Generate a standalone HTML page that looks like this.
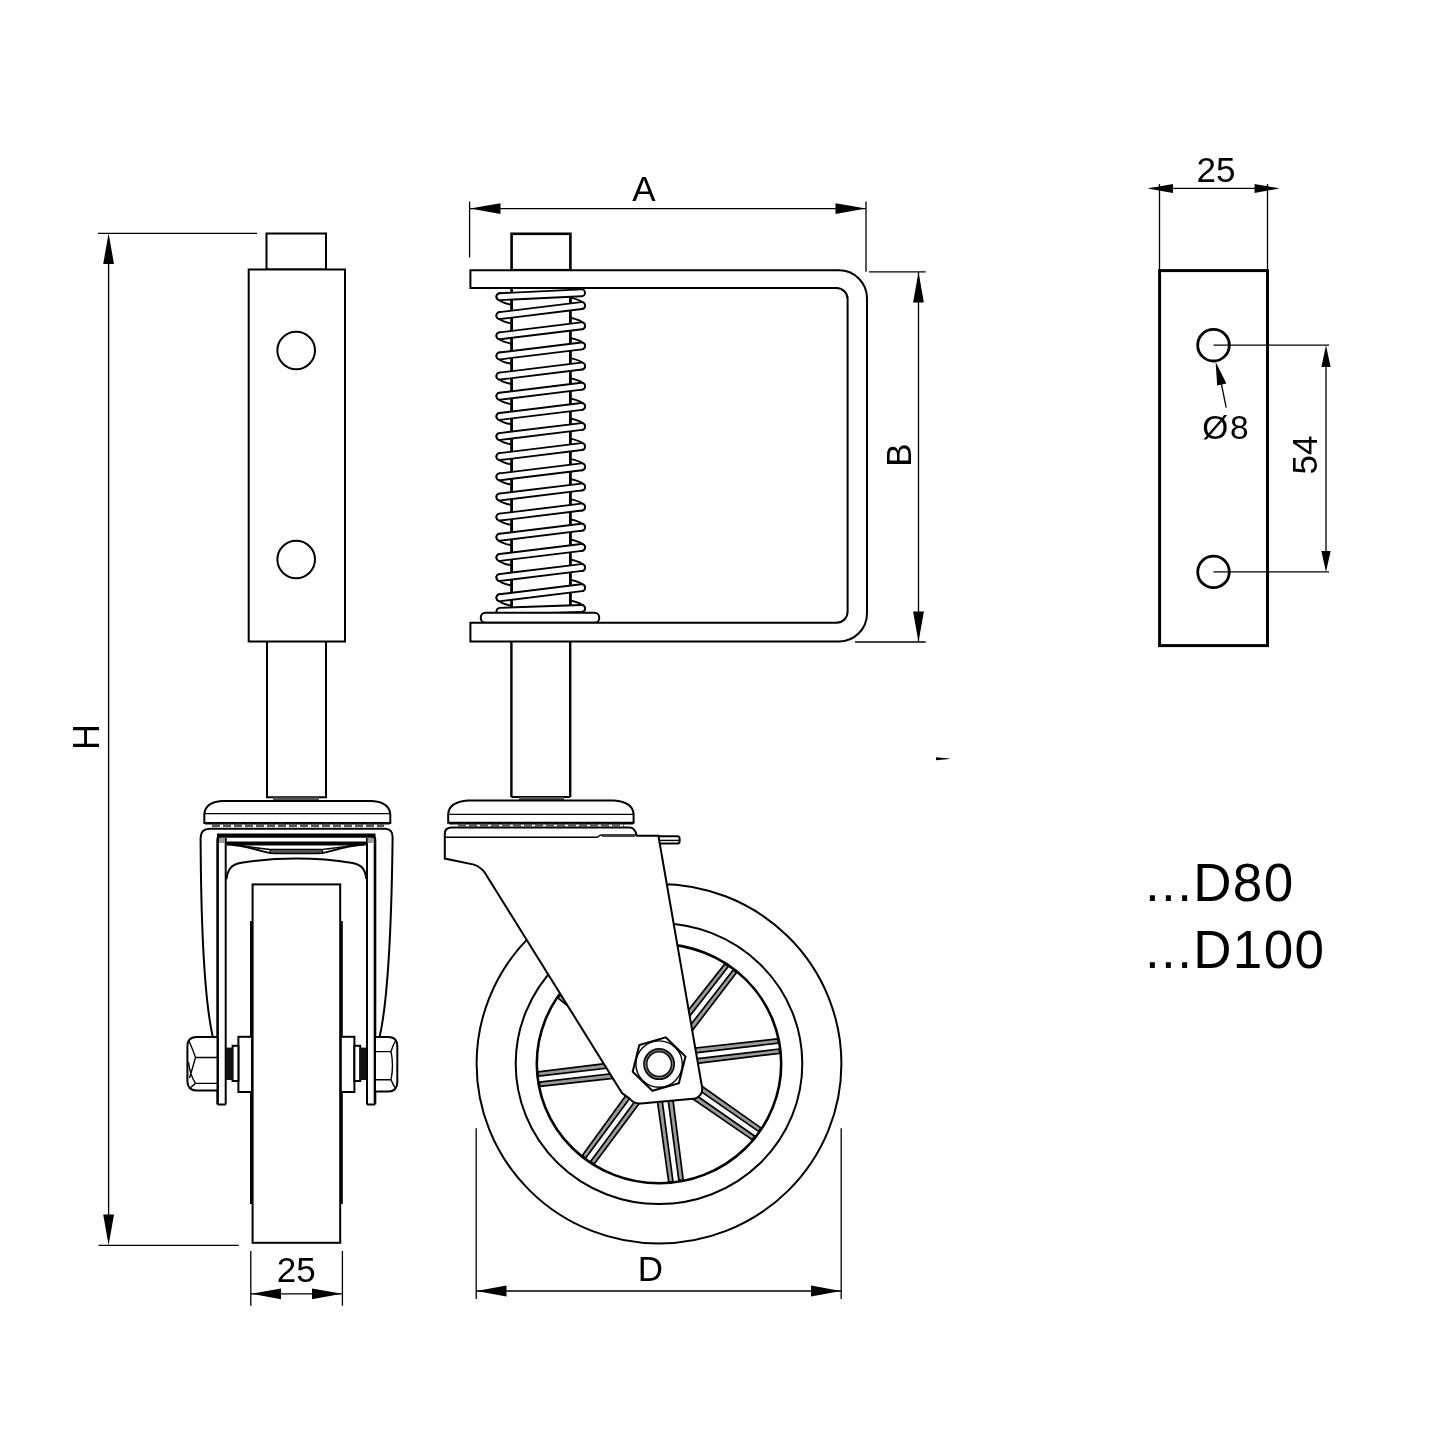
<!DOCTYPE html>
<html><head><meta charset="utf-8"><title>Caster drawing</title>
<style>
html,body{margin:0;padding:0;background:#fff}
body{width:1440px;height:1440px;overflow:hidden}
svg{display:block;filter:grayscale(1)}
text{font-family:"Liberation Sans",sans-serif;fill:#000}
.k{stroke:#000;fill:none;stroke-width:2}
.w{stroke:#000;fill:#fff;stroke-width:2}
.t{stroke:#000;fill:none;stroke-width:1.4}
.d{stroke:#000;fill:none;stroke-width:1.3}
.a{fill:#000;stroke:none}
</style></head><body>
<svg width="1440" height="1440" viewBox="0 0 1440 1440">
<rect width="1440" height="1440" fill="#fff"/>

<g id="left">
<path class="d" d="M98,233.3H257M98.5,1245.3H238.8M108.6,250V1230"/>
<polygon class="a" points="108.6,233.3 103.2,264 114,264"/>
<polygon class="a" points="108.6,1245.3 103.2,1214.5 114,1214.5"/>
<text transform="translate(99,737) rotate(-90)" font-size="36" text-anchor="middle">H</text>
<rect class="w" x="266.5" y="233.5" width="59.5" height="36"/>
<rect class="w" x="248.7" y="269.5" width="96.3" height="372"/>
<circle class="k" cx="296.2" cy="350.5" r="18.8"/>
<circle class="k" cx="296.2" cy="559.5" r="18.8"/>
<path class="k" d="M267,641.5V797.3H326V641.5"/>
<rect x="273" y="797.3" width="46" height="3.6" fill="#555"/>
<path class="w" d="M210,828.8H385Q393,829 392.6,838C391.5,930 388,1000 379.6,1037H212.8C204.5,1000 201,930 200.6,838Q200.5,829 210,828.8Z"/>
<path class="w" d="M204.3,822.9V814Q205.5,802 222,801H372Q389,802 390.3,814V822.9Z"/>
<path class="t" d="M204.3,813.6H390.3"/>
<path d="M205,823.3H389.6" stroke="#000" stroke-width="2.6" fill="none"/>
<path d="M212,825.4H384" stroke="#555" stroke-width="3.2" stroke-dasharray="8,3" fill="none"/>
<path d="M217.6,1104.5V840Q217.6,835.6 222,835.6H370.5Q375,835.6 375,840V1104.5" fill="#fff" stroke="#000" stroke-width="2.6"/>
<path d="M217,835.6H375.5" stroke="#000" stroke-width="4.2" fill="none"/>
<path d="M225.7,843H367" stroke="#000" stroke-width="3" fill="none"/>
<path class="k" d="M225.7,838V1104.5M367,838V1104.5"/>
<path class="k" d="M217.6,1104.5H225.7M367,1104.5H375"/>
<rect x="219" y="838" width="6" height="5" fill="#999"/><rect x="367.6" y="838" width="6" height="5" fill="#999"/>
<path d="M227,844.5C240,845.2 252,848.2 262,851.2Q268,853.3 274,853.3H318.5Q324.5,853.3 330.5,851.2C340.5,848.2 352.5,845.2 365.5,844.5Z" fill="#fff" stroke="#000" stroke-width="1.8"/>
<path d="M240,845.6C252,847 262,849.2 270,849.4V853.3H322.5V849.4C330.5,849.2 340.5,847 352.5,845.6L322.5,849.4H270Z" fill="#555" stroke="#000" stroke-width="1.2"/>
<path class="k" d="M226.5,879C228,868 232,864.8 240,863C262,859.5 280,858.6 296.3,858.6C313,858.6 331,859.5 352.5,863C361,864.8 365,868 366.3,879"/>
<rect class="w" x="252.6" y="884.4" width="87.6" height="358.4"/>
<path d="M251.2,921V1204M341.6,921V1204" stroke="#000" stroke-width="2.4" fill="none"/>
<rect class="w" x="238.4" y="1036.8" width="13.6" height="55.2"/>
<rect class="w" x="232.6" y="1045.8" width="5.8" height="35.2"/>
<rect x="226" y="1047.6" width="7" height="32.4" fill="#111"/>
<rect class="w" x="340.8" y="1036.8" width="13.6" height="55.2"/>
<rect class="w" x="354.4" y="1045.8" width="5.8" height="35.2"/>
<rect x="359.6" y="1047.6" width="7" height="32.4" fill="#111"/>
<path class="w" d="M217.5,1037H196Q187.4,1037.5 187.4,1046V1081Q187.4,1090 196,1090.4H217.5Z"/>
<path class="t" d="M195.5,1057.5H217.5M195.5,1083.4H217.5M189,1041Q193,1050 195.5,1057.5Q192,1070 189.5,1078M188.5,1062Q190,1075 195.5,1083.4L190,1088"/>
<path class="w" d="M375,1037H389Q397.3,1037.5 397.3,1046V1082Q397.3,1091 389,1091.4H375Z"/>
<path class="t" d="M375,1051.6H391M375,1079.8H391M395.5,1041Q392.5,1046 391,1051.6Q394,1065 391,1079.8Q393,1085 395.5,1088"/>
<path class="d" d="M250.8,1251V1305.8M342.4,1251V1305.8M251,1293.8H342"/>
<polygon class="a" points="251.2,1293.8 281,1288.4 281,1299.2"/>
<polygon class="a" points="342,1293.8 312,1288.4 312,1299.2"/>
<text x="296.3" y="1282" font-size="35" text-anchor="middle">25</text>
</g>
<g id="mid">
<path class="d" d="M469.6,201.4V257.4M866,201.4V271.8M470,208.6H866"/>
<polygon class="a" points="470,208.6 500.5,203.2 500.5,214"/>
<polygon class="a" points="866,208.6 835.5,203.2 835.5,214"/>
<text x="644" y="201.4" font-size="35" text-anchor="middle">A</text>
<path class="d" d="M869,271.8H925.7M855,642H925.7M918.5,272V642"/>
<polygon class="a" points="918.5,272 913.1,302.5 923.9,302.5"/>
<polygon class="a" points="918.5,642 913.1,611.5 923.9,611.5"/>
<text transform="translate(911.3,455) rotate(-90)" font-size="35" text-anchor="middle">B</text>
<rect x="511.6" y="233.8" width="58.8" height="36.4" fill="#fff" stroke="#000" stroke-width="2.6"/>
<path d="M499.9,296.7Q505.9,301.2 520,302.2" stroke="#000" stroke-width="8.8" stroke-linecap="round" fill="none"/>
<path d="M499.9,296.7Q505.9,301.2 520,302.2" stroke="#fff" stroke-width="5" stroke-linecap="round" fill="none"/>
<path d="M499.9,315.6Q505.9,320.1 520,321.1" stroke="#000" stroke-width="8.8" stroke-linecap="round" fill="none"/>
<path d="M499.9,315.6Q505.9,320.1 520,321.1" stroke="#fff" stroke-width="5" stroke-linecap="round" fill="none"/>
<path d="M581.6,305.6Q575.6,301.1 562,300.1" stroke="#000" stroke-width="8.8" stroke-linecap="round" fill="none"/>
<path d="M581.6,305.6Q575.6,301.1 562,300.1" stroke="#fff" stroke-width="5" stroke-linecap="round" fill="none"/>
<path d="M499.9,335.8Q505.9,340.2 520,341.2" stroke="#000" stroke-width="8.8" stroke-linecap="round" fill="none"/>
<path d="M499.9,335.8Q505.9,340.2 520,341.2" stroke="#fff" stroke-width="5" stroke-linecap="round" fill="none"/>
<path d="M581.6,325.8Q575.6,321.2 562,320.2" stroke="#000" stroke-width="8.8" stroke-linecap="round" fill="none"/>
<path d="M581.6,325.8Q575.6,321.2 562,320.2" stroke="#fff" stroke-width="5" stroke-linecap="round" fill="none"/>
<path d="M499.9,355.9Q505.9,360.4 520,361.4" stroke="#000" stroke-width="8.8" stroke-linecap="round" fill="none"/>
<path d="M499.9,355.9Q505.9,360.4 520,361.4" stroke="#fff" stroke-width="5" stroke-linecap="round" fill="none"/>
<path d="M581.6,345.9Q575.6,341.4 562,340.4" stroke="#000" stroke-width="8.8" stroke-linecap="round" fill="none"/>
<path d="M581.6,345.9Q575.6,341.4 562,340.4" stroke="#fff" stroke-width="5" stroke-linecap="round" fill="none"/>
<path d="M499.9,376.1Q505.9,380.6 520,381.6" stroke="#000" stroke-width="8.8" stroke-linecap="round" fill="none"/>
<path d="M499.9,376.1Q505.9,380.6 520,381.6" stroke="#fff" stroke-width="5" stroke-linecap="round" fill="none"/>
<path d="M581.6,366.1Q575.6,361.6 562,360.6" stroke="#000" stroke-width="8.8" stroke-linecap="round" fill="none"/>
<path d="M581.6,366.1Q575.6,361.6 562,360.6" stroke="#fff" stroke-width="5" stroke-linecap="round" fill="none"/>
<path d="M499.9,396.2Q505.9,400.7 520,401.7" stroke="#000" stroke-width="8.8" stroke-linecap="round" fill="none"/>
<path d="M499.9,396.2Q505.9,400.7 520,401.7" stroke="#fff" stroke-width="5" stroke-linecap="round" fill="none"/>
<path d="M581.6,386.2Q575.6,381.7 562,380.7" stroke="#000" stroke-width="8.8" stroke-linecap="round" fill="none"/>
<path d="M581.6,386.2Q575.6,381.7 562,380.7" stroke="#fff" stroke-width="5" stroke-linecap="round" fill="none"/>
<path d="M499.9,416.4Q505.9,420.9 520,421.9" stroke="#000" stroke-width="8.8" stroke-linecap="round" fill="none"/>
<path d="M499.9,416.4Q505.9,420.9 520,421.9" stroke="#fff" stroke-width="5" stroke-linecap="round" fill="none"/>
<path d="M581.6,406.4Q575.6,401.9 562,400.9" stroke="#000" stroke-width="8.8" stroke-linecap="round" fill="none"/>
<path d="M581.6,406.4Q575.6,401.9 562,400.9" stroke="#fff" stroke-width="5" stroke-linecap="round" fill="none"/>
<path d="M499.9,436.5Q505.9,441.0 520,442.0" stroke="#000" stroke-width="8.8" stroke-linecap="round" fill="none"/>
<path d="M499.9,436.5Q505.9,441.0 520,442.0" stroke="#fff" stroke-width="5" stroke-linecap="round" fill="none"/>
<path d="M581.6,426.5Q575.6,422.0 562,421.0" stroke="#000" stroke-width="8.8" stroke-linecap="round" fill="none"/>
<path d="M581.6,426.5Q575.6,422.0 562,421.0" stroke="#fff" stroke-width="5" stroke-linecap="round" fill="none"/>
<path d="M499.9,456.6Q505.9,461.1 520,462.1" stroke="#000" stroke-width="8.8" stroke-linecap="round" fill="none"/>
<path d="M499.9,456.6Q505.9,461.1 520,462.1" stroke="#fff" stroke-width="5" stroke-linecap="round" fill="none"/>
<path d="M581.6,446.6Q575.6,442.1 562,441.1" stroke="#000" stroke-width="8.8" stroke-linecap="round" fill="none"/>
<path d="M581.6,446.6Q575.6,442.1 562,441.1" stroke="#fff" stroke-width="5" stroke-linecap="round" fill="none"/>
<path d="M499.9,476.8Q505.9,481.3 520,482.3" stroke="#000" stroke-width="8.8" stroke-linecap="round" fill="none"/>
<path d="M499.9,476.8Q505.9,481.3 520,482.3" stroke="#fff" stroke-width="5" stroke-linecap="round" fill="none"/>
<path d="M581.6,466.8Q575.6,462.3 562,461.3" stroke="#000" stroke-width="8.8" stroke-linecap="round" fill="none"/>
<path d="M581.6,466.8Q575.6,462.3 562,461.3" stroke="#fff" stroke-width="5" stroke-linecap="round" fill="none"/>
<path d="M499.9,497.0Q505.9,501.5 520,502.5" stroke="#000" stroke-width="8.8" stroke-linecap="round" fill="none"/>
<path d="M499.9,497.0Q505.9,501.5 520,502.5" stroke="#fff" stroke-width="5" stroke-linecap="round" fill="none"/>
<path d="M581.6,487.0Q575.6,482.5 562,481.5" stroke="#000" stroke-width="8.8" stroke-linecap="round" fill="none"/>
<path d="M581.6,487.0Q575.6,482.5 562,481.5" stroke="#fff" stroke-width="5" stroke-linecap="round" fill="none"/>
<path d="M499.9,517.1Q505.9,521.6 520,522.6" stroke="#000" stroke-width="8.8" stroke-linecap="round" fill="none"/>
<path d="M499.9,517.1Q505.9,521.6 520,522.6" stroke="#fff" stroke-width="5" stroke-linecap="round" fill="none"/>
<path d="M581.6,507.1Q575.6,502.6 562,501.6" stroke="#000" stroke-width="8.8" stroke-linecap="round" fill="none"/>
<path d="M581.6,507.1Q575.6,502.6 562,501.6" stroke="#fff" stroke-width="5" stroke-linecap="round" fill="none"/>
<path d="M499.9,537.2Q505.9,541.8 520,542.8" stroke="#000" stroke-width="8.8" stroke-linecap="round" fill="none"/>
<path d="M499.9,537.2Q505.9,541.8 520,542.8" stroke="#fff" stroke-width="5" stroke-linecap="round" fill="none"/>
<path d="M581.6,527.2Q575.6,522.8 562,521.8" stroke="#000" stroke-width="8.8" stroke-linecap="round" fill="none"/>
<path d="M581.6,527.2Q575.6,522.8 562,521.8" stroke="#fff" stroke-width="5" stroke-linecap="round" fill="none"/>
<path d="M499.9,557.4Q505.9,561.9 520,562.9" stroke="#000" stroke-width="8.8" stroke-linecap="round" fill="none"/>
<path d="M499.9,557.4Q505.9,561.9 520,562.9" stroke="#fff" stroke-width="5" stroke-linecap="round" fill="none"/>
<path d="M581.6,547.4Q575.6,542.9 562,541.9" stroke="#000" stroke-width="8.8" stroke-linecap="round" fill="none"/>
<path d="M581.6,547.4Q575.6,542.9 562,541.9" stroke="#fff" stroke-width="5" stroke-linecap="round" fill="none"/>
<path d="M499.9,577.5Q505.9,582.0 520,583.0" stroke="#000" stroke-width="8.8" stroke-linecap="round" fill="none"/>
<path d="M499.9,577.5Q505.9,582.0 520,583.0" stroke="#fff" stroke-width="5" stroke-linecap="round" fill="none"/>
<path d="M581.6,567.5Q575.6,563.0 562,562.0" stroke="#000" stroke-width="8.8" stroke-linecap="round" fill="none"/>
<path d="M581.6,567.5Q575.6,563.0 562,562.0" stroke="#fff" stroke-width="5" stroke-linecap="round" fill="none"/>
<path d="M499.9,597.7Q505.9,602.2 520,603.2" stroke="#000" stroke-width="8.8" stroke-linecap="round" fill="none"/>
<path d="M499.9,597.7Q505.9,602.2 520,603.2" stroke="#fff" stroke-width="5" stroke-linecap="round" fill="none"/>
<path d="M581.6,587.7Q575.6,583.2 562,582.2" stroke="#000" stroke-width="8.8" stroke-linecap="round" fill="none"/>
<path d="M581.6,587.7Q575.6,583.2 562,582.2" stroke="#fff" stroke-width="5" stroke-linecap="round" fill="none"/>
<path d="M581.6,608.5Q575.6,604.0 562,603.0" stroke="#000" stroke-width="8.8" stroke-linecap="round" fill="none"/>
<path d="M581.6,608.5Q575.6,604.0 562,603.0" stroke="#fff" stroke-width="5" stroke-linecap="round" fill="none"/>
<rect x="511.6" y="288" width="58.8" height="334" fill="#fff" stroke="none"/>
<path d="M511.6,288V622M570.4,288V622" stroke="#000" stroke-width="2.8" fill="none"/>
<path d="M499.9,296.7L581.6,292.8" stroke="#000" stroke-width="8.8" stroke-linecap="round" fill="none"/>
<path d="M499.9,296.7L581.6,292.8" stroke="#fff" stroke-width="5" stroke-linecap="round" fill="none"/>
<path d="M499.9,315.6L581.6,305.6" stroke="#000" stroke-width="8.8" stroke-linecap="round" fill="none"/>
<path d="M499.9,315.6L581.6,305.6" stroke="#fff" stroke-width="5" stroke-linecap="round" fill="none"/>
<path d="M499.9,335.8L581.6,325.8" stroke="#000" stroke-width="8.8" stroke-linecap="round" fill="none"/>
<path d="M499.9,335.8L581.6,325.8" stroke="#fff" stroke-width="5" stroke-linecap="round" fill="none"/>
<path d="M499.9,355.9L581.6,345.9" stroke="#000" stroke-width="8.8" stroke-linecap="round" fill="none"/>
<path d="M499.9,355.9L581.6,345.9" stroke="#fff" stroke-width="5" stroke-linecap="round" fill="none"/>
<path d="M499.9,376.1L581.6,366.1" stroke="#000" stroke-width="8.8" stroke-linecap="round" fill="none"/>
<path d="M499.9,376.1L581.6,366.1" stroke="#fff" stroke-width="5" stroke-linecap="round" fill="none"/>
<path d="M499.9,396.2L581.6,386.2" stroke="#000" stroke-width="8.8" stroke-linecap="round" fill="none"/>
<path d="M499.9,396.2L581.6,386.2" stroke="#fff" stroke-width="5" stroke-linecap="round" fill="none"/>
<path d="M499.9,416.4L581.6,406.4" stroke="#000" stroke-width="8.8" stroke-linecap="round" fill="none"/>
<path d="M499.9,416.4L581.6,406.4" stroke="#fff" stroke-width="5" stroke-linecap="round" fill="none"/>
<path d="M499.9,436.5L581.6,426.5" stroke="#000" stroke-width="8.8" stroke-linecap="round" fill="none"/>
<path d="M499.9,436.5L581.6,426.5" stroke="#fff" stroke-width="5" stroke-linecap="round" fill="none"/>
<path d="M499.9,456.6L581.6,446.6" stroke="#000" stroke-width="8.8" stroke-linecap="round" fill="none"/>
<path d="M499.9,456.6L581.6,446.6" stroke="#fff" stroke-width="5" stroke-linecap="round" fill="none"/>
<path d="M499.9,476.8L581.6,466.8" stroke="#000" stroke-width="8.8" stroke-linecap="round" fill="none"/>
<path d="M499.9,476.8L581.6,466.8" stroke="#fff" stroke-width="5" stroke-linecap="round" fill="none"/>
<path d="M499.9,497.0L581.6,487.0" stroke="#000" stroke-width="8.8" stroke-linecap="round" fill="none"/>
<path d="M499.9,497.0L581.6,487.0" stroke="#fff" stroke-width="5" stroke-linecap="round" fill="none"/>
<path d="M499.9,517.1L581.6,507.1" stroke="#000" stroke-width="8.8" stroke-linecap="round" fill="none"/>
<path d="M499.9,517.1L581.6,507.1" stroke="#fff" stroke-width="5" stroke-linecap="round" fill="none"/>
<path d="M499.9,537.2L581.6,527.2" stroke="#000" stroke-width="8.8" stroke-linecap="round" fill="none"/>
<path d="M499.9,537.2L581.6,527.2" stroke="#fff" stroke-width="5" stroke-linecap="round" fill="none"/>
<path d="M499.9,557.4L581.6,547.4" stroke="#000" stroke-width="8.8" stroke-linecap="round" fill="none"/>
<path d="M499.9,557.4L581.6,547.4" stroke="#fff" stroke-width="5" stroke-linecap="round" fill="none"/>
<path d="M499.9,577.5L581.6,567.5" stroke="#000" stroke-width="8.8" stroke-linecap="round" fill="none"/>
<path d="M499.9,577.5L581.6,567.5" stroke="#fff" stroke-width="5" stroke-linecap="round" fill="none"/>
<path d="M499.9,597.7L581.6,587.7" stroke="#000" stroke-width="8.8" stroke-linecap="round" fill="none"/>
<path d="M499.9,597.7L581.6,587.7" stroke="#fff" stroke-width="5" stroke-linecap="round" fill="none"/>
<path d="M499.9,611.3L581.6,608.5" stroke="#000" stroke-width="8.8" stroke-linecap="round" fill="none"/>
<path d="M499.9,611.3L581.6,608.5" stroke="#fff" stroke-width="5" stroke-linecap="round" fill="none"/>
<rect class="w" x="480.8" y="612.8" width="118.4" height="10" rx="4.5"/>
<path class="w" stroke-width="2.2" d="M470.4,270.3H839A28,28 0 0 1 867,298.3V613.5A28,28 0 0 1 839,641.5H470.4V622.8H836.6A11,11 0 0 0 847.6,611.8V299A11,11 0 0 0 836.6,288H470.4Z"/>
<path d="M511.4,641.5V797M570.2,641.5V797" stroke="#000" stroke-width="2.4" fill="none"/>
<path class="k" d="M511.4,797H570.2"/>
<rect x="519" y="797" width="45" height="3.6" fill="#555"/>
<ellipse class="w" cx="659.0" cy="1063.7" rx="182.4" ry="179.8"/>
<ellipse class="k" cx="659.0" cy="1063.7" rx="143.3" ry="140.4"/>
<ellipse cx="659.0" cy="1063.7" rx="122.2" ry="119.6" fill="#fff" stroke="#000" stroke-width="2.6"/>
<polygon points="674.4,1061.3 779.3,1049.0 779.7,1053.3 675.0,1066.1" fill="#9a9a9a" stroke="#000" stroke-width="1.7" stroke-linejoin="round"/>
<polygon points="673.7,1055.3 778.4,1043.1 777.5,1038.9 673.2,1050.5" fill="#9a9a9a" stroke="#000" stroke-width="1.7" stroke-linejoin="round"/>
<polygon points="630.1,1065.5 538.5,1076.2 538.1,1071.9 629.5,1060.7" fill="#9a9a9a" stroke="#000" stroke-width="1.7" stroke-linejoin="round"/>
<polygon points="630.8,1071.5 539.3,1082.1 540.0,1086.4 631.3,1076.4" fill="#9a9a9a" stroke="#000" stroke-width="1.7" stroke-linejoin="round"/>
<polygon points="659.5,1080.6 673.0,1181.5 668.7,1181.9 654.7,1081.3" fill="#9a9a9a" stroke="#000" stroke-width="1.7" stroke-linejoin="round"/>
<polygon points="665.5,1079.8 678.9,1180.7 683.2,1179.9 670.3,1079.2" fill="#9a9a9a" stroke="#000" stroke-width="1.7" stroke-linejoin="round"/>
<polygon points="679.0,1039.9 733.2,969.9 736.6,972.6 682.8,1042.9" fill="#9a9a9a" stroke="#000" stroke-width="1.7" stroke-linejoin="round"/>
<polygon points="674.2,1036.2 728.3,966.4 724.7,964.1 670.3,1033.2" fill="#9a9a9a" stroke="#000" stroke-width="1.7" stroke-linejoin="round"/>
<polygon points="642.7,1080.7 585.7,1158.1 582.3,1155.5 638.8,1077.8" fill="#9a9a9a" stroke="#000" stroke-width="1.7" stroke-linejoin="round"/>
<polygon points="647.5,1084.2 590.6,1161.6 594.2,1163.9 651.5,1087.1" fill="#9a9a9a" stroke="#000" stroke-width="1.7" stroke-linejoin="round"/>
<polygon points="679.1,1083.5 754.9,1136.2 752.1,1139.6 676.3,1087.5" fill="#9a9a9a" stroke="#000" stroke-width="1.7" stroke-linejoin="round"/>
<polygon points="682.5,1078.6 758.5,1131.4 760.9,1127.9 685.3,1074.5" fill="#9a9a9a" stroke="#000" stroke-width="1.7" stroke-linejoin="round"/>
<polygon points="641.5,1050.5 564.2,989.8 567.0,986.5 644.5,1046.6" fill="#9a9a9a" stroke="#000" stroke-width="1.7" stroke-linejoin="round"/>
<polygon points="637.8,1055.2 560.5,994.6 558.0,998.1 634.8,1059.0" fill="#9a9a9a" stroke="#000" stroke-width="1.7" stroke-linejoin="round"/>
<path class="w" d="M451,827.6H630Q635,828 636.8,835.8H658.4L702.2,1088Q702.8,1095 695.6,1098.6L641,1103.4Q634,1104 630,1099L622,1093L485,873Q481,867 474,864.6L444.8,858.6V834Q444.8,828 451,827.6Z"/>
<path class="t" d="M445,837.2H596.5Q598,837.2 599,836Q600,835 602,835H636"/>
<path d="M602,836H635" stroke="#444" stroke-width="2.2" fill="none"/>
<path class="k" d="M658.6,836.2H677Q679.6,836.2 679.6,838.5V841.5Q679.6,843.6 677,843.6H660"/>
<path class="t" d="M659.5,840.4H679"/>
<path class="w" d="M448.2,822.7V814Q449,802 468,800.6H614Q632.5,802 633.6,814V822.7Z"/>
<path class="t" d="M448.2,814.4H633.6"/>
<path d="M449,823.2H633" stroke="#000" stroke-width="2.6" fill="none"/>
<path d="M458,825.3H624" stroke="#555" stroke-width="3" stroke-dasharray="8,3" fill="none"/>
<polygon class="w" stroke-width="2.2" points="685.5,1056.5 678.9,1083.2 652.4,1090.8 632.7,1071.7 639.3,1045.0 665.8,1037.4"/>
<circle class="t" cx="659.1" cy="1064.1" r="23.2"/>
<circle cx="659.1" cy="1064.1" r="13.8" fill="#fff" stroke="#111" stroke-width="4.4"/>
<circle cx="659.1" cy="1064.1" r="13.8" fill="none" stroke="#999" stroke-width="0.9"/>
<path class="d" d="M476.2,1128.3V1299M841.2,1128.3V1299M476.5,1291H841"/>
<polygon class="a" points="476.4,1291 506.5,1285.6 506.5,1296.4"/>
<polygon class="a" points="841,1291 811,1285.6 811,1296.4"/>
<text x="650.5" y="1281" font-size="35" text-anchor="middle">D</text>
</g>
<g id="right">
<path class="d" d="M1159.5,184V270M1267.5,184V270M1150,188.4H1277"/>
<polygon class="a" points="1147.5,188.4 1173,183.9 1173,192.9"/>
<polygon class="a" points="1279.7,188.4 1254.6,183.9 1254.6,192.9"/>
<text x="1216" y="181.5" font-size="35" text-anchor="middle">25</text>
<rect x="1159.6" y="270.6" width="107.9" height="375" fill="#fff" stroke="#000" stroke-width="3"/>
<circle cx="1213.5" cy="345.2" r="15.8" fill="none" stroke="#000" stroke-width="2.8"/>
<circle cx="1213.5" cy="571.9" r="15.8" fill="none" stroke="#000" stroke-width="2.8"/>
<path class="d" d="M1213.5,345.2H1329M1213.5,571.9H1329M1326,350V567"/>
<polygon class="a" points="1326,345.2 1321.4,367 1330.6,367"/>
<polygon class="a" points="1326,571.9 1321.4,551 1330.6,551"/>
<path class="d" d="M1221,382L1226.2,407.7"/>
<polygon class="a" points="1215.6,361.8 1217.2,385.6 1226.4,383.6"/>
<text x="1226.3" y="438.5" font-size="33.5" letter-spacing="1.6" text-anchor="middle">Ø8</text>
<text transform="translate(1316.7,455) rotate(-90)" font-size="35" text-anchor="middle">54</text>
<polygon class="a" points="936,757.2 949.5,758.4 949.5,759 936,760.2"/>
<text x="1145" y="901.3" font-size="53" letter-spacing="1.35">...D80</text>
<text x="1145" y="968" font-size="53" letter-spacing="1.35">...D100</text>
</g>
</svg></body></html>
